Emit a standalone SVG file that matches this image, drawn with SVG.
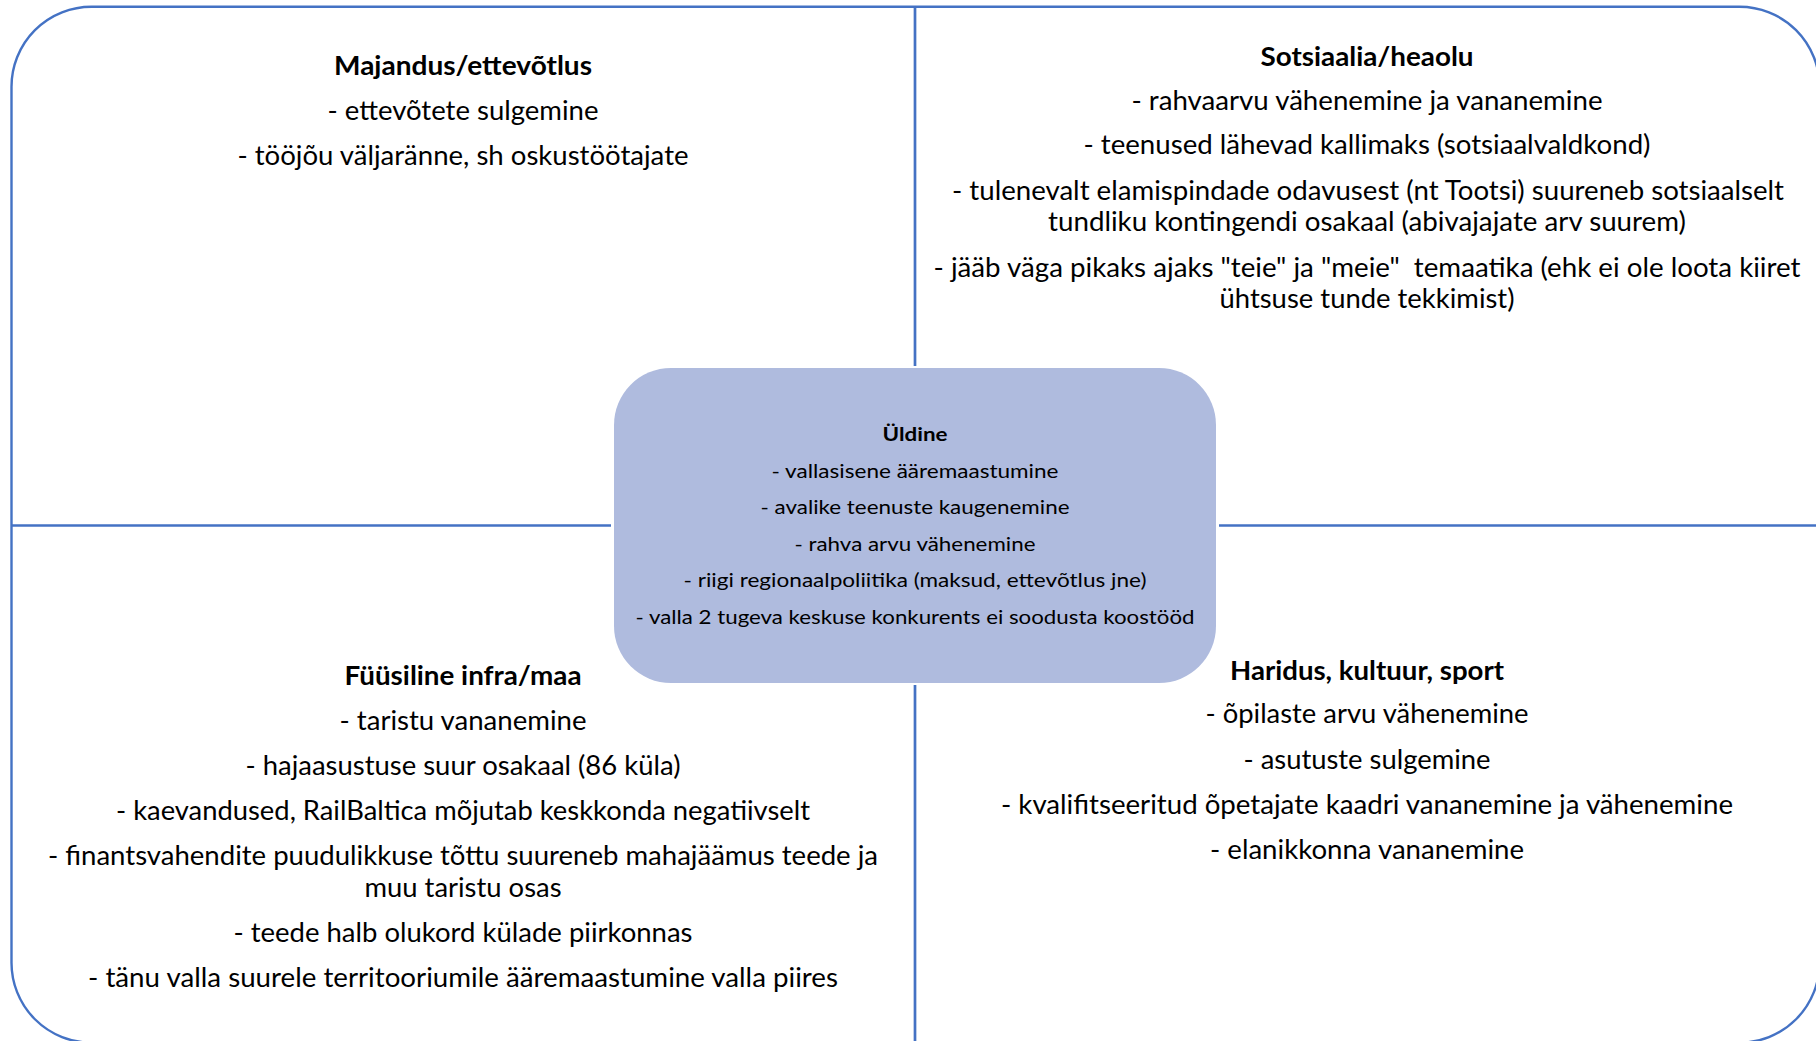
<svg xmlns="http://www.w3.org/2000/svg" width="1816" height="1041" viewBox="0 0 1816 1041">
<style>
.frame{fill:none;stroke:#4472C4;stroke-width:2.4}
.div{stroke:#4472C4;stroke-width:2.7;fill:none}
.box{fill:#AFBBDE;stroke:none}
text{font-family:Lato,"Liberation Sans",sans-serif;fill:#000;text-anchor:middle}
.q{font-size:26px}
.qb{font-size:26px;font-weight:bold}
.c{font-size:19.5px}
.cb{font-size:19.5px;font-weight:bold}
</style>
<rect width="1816" height="1041" fill="#FFFFFF"/>
<g id="frame">
<rect class="frame" x="11.5" y="6.7" width="1808" height="1036" rx="80" ry="80"/>
</g>
<g id="connectors">
<line class="div" x1="915" y1="6.7" x2="915" y2="366"/>
<line class="div" x1="915" y1="685" x2="915" y2="1041"/>
<line class="div" x1="11.5" y1="525.5" x2="611" y2="525.5"/>
<line class="div" x1="1219" y1="525.5" x2="1816" y2="525.5"/>
</g>
<g id="node-economy">
<text class="qb" x="463" y="75" textLength="258" lengthAdjust="spacingAndGlyphs">Majandus/ettevõtlus</text>
<text class="q" x="463" y="120" textLength="271" lengthAdjust="spacingAndGlyphs">- ettevõtete sulgemine</text>
<text class="q" x="463" y="165" textLength="451" lengthAdjust="spacingAndGlyphs">- tööjõu väljaränne, sh oskustöötajate</text>
</g>
<g id="node-social">
<text class="qb" x="1367" y="65.5" textLength="213" lengthAdjust="spacingAndGlyphs">Sotsiaalia/heaolu</text>
<text class="q" x="1367" y="109.5" textLength="471" lengthAdjust="spacingAndGlyphs">- rahvaarvu vähenemine ja vananemine</text>
<text class="q" x="1367" y="154" textLength="567" lengthAdjust="spacingAndGlyphs">- teenused lähevad kallimaks (sotsiaalvaldkond)</text>
<text class="q" x="1368" y="200" textLength="832" lengthAdjust="spacingAndGlyphs">- tulenevalt elamispindade odavusest (nt Tootsi) suureneb sotsiaalselt</text>
<text class="q" x="1367" y="230.5" textLength="638" lengthAdjust="spacingAndGlyphs">tundliku kontingendi osakaal (abivajajate arv suurem)</text>
<text class="q" x="1367" y="277" textLength="867" lengthAdjust="spacingAndGlyphs" xml:space="preserve">- jääb väga pikaks ajaks "teie" ja "meie"  temaatika (ehk ei ole loota kiiret</text>
<text class="q" x="1367" y="308" textLength="295" lengthAdjust="spacingAndGlyphs">ühtsuse tunde tekkimist)</text>
</g>
<g id="node-general">
<rect class="box" x="614" y="368" width="602" height="315" rx="57" ry="57"/>
<text class="cb" x="915" y="441" textLength="65" lengthAdjust="spacingAndGlyphs">Üldine</text>
<text class="c" x="915" y="477.5" textLength="287" lengthAdjust="spacingAndGlyphs">- vallasisene ääremaastumine</text>
<text class="c" x="915" y="514" textLength="309" lengthAdjust="spacingAndGlyphs">- avalike teenuste kaugenemine</text>
<text class="c" x="915" y="550.5" textLength="241" lengthAdjust="spacingAndGlyphs">- rahva arvu vähenemine</text>
<text class="c" x="915" y="587" textLength="463" lengthAdjust="spacingAndGlyphs">- riigi regionaalpoliitika (maksud, ettevõtlus jne)</text>
<text class="c" x="915" y="623.5" textLength="559" lengthAdjust="spacingAndGlyphs">- valla 2 tugeva keskuse konkurents ei soodusta koostööd</text>
</g>
<g id="node-infra">
<text class="qb" x="463" y="685" textLength="237" lengthAdjust="spacingAndGlyphs">Füüsiline infra/maa</text>
<text class="q" x="463" y="730" textLength="247" lengthAdjust="spacingAndGlyphs">- taristu vananemine</text>
<text class="q" x="463" y="775" textLength="435" lengthAdjust="spacingAndGlyphs">- hajaasustuse suur osakaal (86 küla)</text>
<text class="q" x="463" y="820" textLength="694" lengthAdjust="spacingAndGlyphs">- kaevandused, RailBaltica mõjutab keskkonda negatiivselt</text>
<text class="q" x="463" y="865" textLength="830" lengthAdjust="spacingAndGlyphs">- finantsvahendite puudulikkuse tõttu suureneb mahajäämus teede ja</text>
<text class="q" x="463" y="897" textLength="197" lengthAdjust="spacingAndGlyphs">muu taristu osas</text>
<text class="q" x="463" y="941.5" textLength="459" lengthAdjust="spacingAndGlyphs">- teede halb olukord külade piirkonnas</text>
<text class="q" x="463" y="986.5" textLength="750" lengthAdjust="spacingAndGlyphs">- tänu valla suurele territooriumile ääremaastumine valla piires</text>
</g>
<g id="node-education">
<text class="qb" x="1367" y="679.5" textLength="274" lengthAdjust="spacingAndGlyphs">Haridus, kultuur, sport</text>
<text class="q" x="1367" y="722.5" textLength="323" lengthAdjust="spacingAndGlyphs">- õpilaste arvu vähenemine</text>
<text class="q" x="1367" y="768.5" textLength="247" lengthAdjust="spacingAndGlyphs">- asutuste sulgemine</text>
<text class="q" x="1367" y="813.5" textLength="732" lengthAdjust="spacingAndGlyphs">- kvalifitseeritud õpetajate kaadri vananemine ja vähenemine</text>
<text class="q" x="1367" y="858.5" textLength="314" lengthAdjust="spacingAndGlyphs">- elanikkonna vananemine</text>
</g>
</svg>
